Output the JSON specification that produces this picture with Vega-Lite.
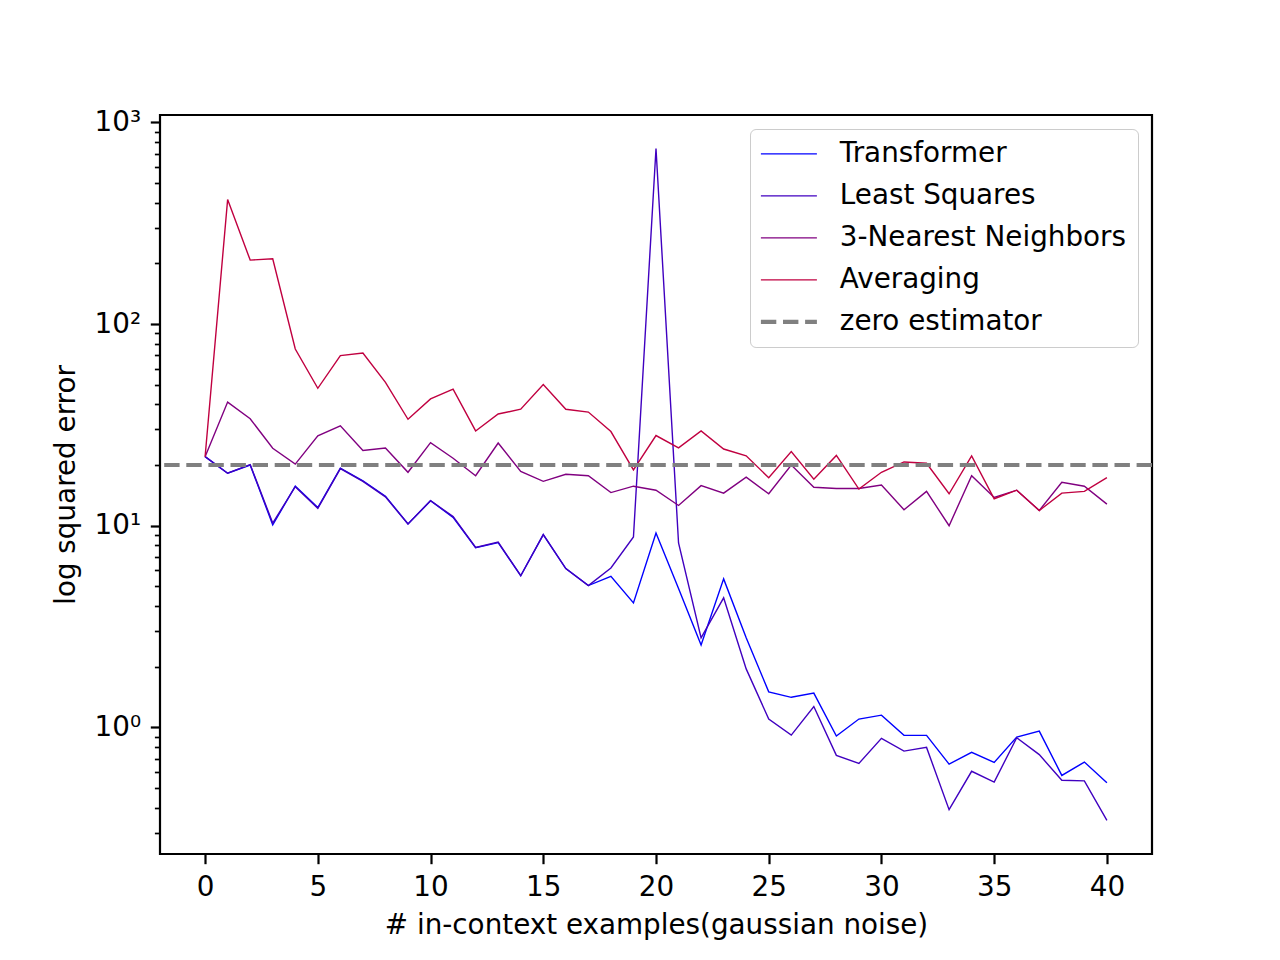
{
  "$schema": "https://vega.github.io/schema/vega-lite/v6.json",
  "autosize": {"type": "none"},
  "padding": {"left": 160, "top": 115, "right": 128, "bottom": 106},
  "width": 992,
  "height": 739,
  "background": "white",
  "data": {
    "values": [
      {"n": 0, "method": "Transformer", "err": 22.0},
      {"n": 1, "method": "Transformer", "err": 18.2},
      {"n": 2, "method": "Transformer", "err": 20.0},
      {"n": 3, "method": "Transformer", "err": 10.1},
      {"n": 4, "method": "Transformer", "err": 15.7},
      {"n": 5, "method": "Transformer", "err": 12.3},
      {"n": 6, "method": "Transformer", "err": 19.3},
      {"n": 7, "method": "Transformer", "err": 16.7},
      {"n": 8, "method": "Transformer", "err": 14.0},
      {"n": 9, "method": "Transformer", "err": 10.2},
      {"n": 10, "method": "Transformer", "err": 13.3},
      {"n": 11, "method": "Transformer", "err": 11.0},
      {"n": 12, "method": "Transformer", "err": 7.78},
      {"n": 13, "method": "Transformer", "err": 8.24},
      {"n": 14, "method": "Transformer", "err": 5.65},
      {"n": 15, "method": "Transformer", "err": 9.03},
      {"n": 16, "method": "Transformer", "err": 6.13},
      {"n": 17, "method": "Transformer", "err": 5.05},
      {"n": 18, "method": "Transformer", "err": 5.61},
      {"n": 19, "method": "Transformer", "err": 4.14},
      {"n": 20, "method": "Transformer", "err": 9.2},
      {"n": 21, "method": "Transformer", "err": 4.88},
      {"n": 22, "method": "Transformer", "err": 2.56},
      {"n": 23, "method": "Transformer", "err": 5.45},
      {"n": 24, "method": "Transformer", "err": 2.78},
      {"n": 25, "method": "Transformer", "err": 1.5},
      {"n": 26, "method": "Transformer", "err": 1.41},
      {"n": 27, "method": "Transformer", "err": 1.48},
      {"n": 28, "method": "Transformer", "err": 0.906},
      {"n": 29, "method": "Transformer", "err": 1.1},
      {"n": 30, "method": "Transformer", "err": 1.15},
      {"n": 31, "method": "Transformer", "err": 0.913},
      {"n": 32, "method": "Transformer", "err": 0.913},
      {"n": 33, "method": "Transformer", "err": 0.658},
      {"n": 34, "method": "Transformer", "err": 0.752},
      {"n": 35, "method": "Transformer", "err": 0.671},
      {"n": 36, "method": "Transformer", "err": 0.895},
      {"n": 37, "method": "Transformer", "err": 0.959},
      {"n": 38, "method": "Transformer", "err": 0.578},
      {"n": 39, "method": "Transformer", "err": 0.673},
      {"n": 40, "method": "Transformer", "err": 0.532},
      {"n": 0, "method": "Least Squares", "err": 22.0},
      {"n": 1, "method": "Least Squares", "err": 18.2},
      {"n": 2, "method": "Least Squares", "err": 20.1},
      {"n": 3, "method": "Least Squares", "err": 10.3},
      {"n": 4, "method": "Least Squares", "err": 15.6},
      {"n": 5, "method": "Least Squares", "err": 12.2},
      {"n": 6, "method": "Least Squares", "err": 19.2},
      {"n": 7, "method": "Least Squares", "err": 16.6},
      {"n": 8, "method": "Least Squares", "err": 13.9},
      {"n": 9, "method": "Least Squares", "err": 10.2},
      {"n": 10, "method": "Least Squares", "err": 13.3},
      {"n": 11, "method": "Least Squares", "err": 11.1},
      {"n": 12, "method": "Least Squares", "err": 7.8},
      {"n": 13, "method": "Least Squares", "err": 8.3},
      {"n": 14, "method": "Least Squares", "err": 5.65},
      {"n": 15, "method": "Least Squares", "err": 9.03},
      {"n": 16, "method": "Least Squares", "err": 6.13},
      {"n": 17, "method": "Least Squares", "err": 5.05},
      {"n": 18, "method": "Least Squares", "err": 6.17},
      {"n": 19, "method": "Least Squares", "err": 8.79},
      {"n": 20, "method": "Least Squares", "err": 741},
      {"n": 21, "method": "Least Squares", "err": 8.21},
      {"n": 22, "method": "Least Squares", "err": 2.78},
      {"n": 23, "method": "Least Squares", "err": 4.39},
      {"n": 24, "method": "Least Squares", "err": 1.95},
      {"n": 25, "method": "Least Squares", "err": 1.1},
      {"n": 26, "method": "Least Squares", "err": 0.916},
      {"n": 27, "method": "Least Squares", "err": 1.27},
      {"n": 28, "method": "Least Squares", "err": 0.727},
      {"n": 29, "method": "Least Squares", "err": 0.663},
      {"n": 30, "method": "Least Squares", "err": 0.882},
      {"n": 31, "method": "Least Squares", "err": 0.763},
      {"n": 32, "method": "Least Squares", "err": 0.796},
      {"n": 33, "method": "Least Squares", "err": 0.391},
      {"n": 34, "method": "Least Squares", "err": 0.606},
      {"n": 35, "method": "Least Squares", "err": 0.536},
      {"n": 36, "method": "Least Squares", "err": 0.889},
      {"n": 37, "method": "Least Squares", "err": 0.733},
      {"n": 38, "method": "Least Squares", "err": 0.547},
      {"n": 39, "method": "Least Squares", "err": 0.543},
      {"n": 40, "method": "Least Squares", "err": 0.346},
      {"n": 0, "method": "3-Nearest Neighbors", "err": 21.96},
      {"n": 1, "method": "3-Nearest Neighbors", "err": 41.0},
      {"n": 2, "method": "3-Nearest Neighbors", "err": 33.9},
      {"n": 3, "method": "3-Nearest Neighbors", "err": 24.2},
      {"n": 4, "method": "3-Nearest Neighbors", "err": 20.2},
      {"n": 5, "method": "3-Nearest Neighbors", "err": 27.9},
      {"n": 6, "method": "3-Nearest Neighbors", "err": 31.3},
      {"n": 7, "method": "3-Nearest Neighbors", "err": 23.6},
      {"n": 8, "method": "3-Nearest Neighbors", "err": 24.3},
      {"n": 9, "method": "3-Nearest Neighbors", "err": 18.4},
      {"n": 10, "method": "3-Nearest Neighbors", "err": 25.8},
      {"n": 11, "method": "3-Nearest Neighbors", "err": 21.6},
      {"n": 12, "method": "3-Nearest Neighbors", "err": 17.7},
      {"n": 13, "method": "3-Nearest Neighbors", "err": 25.7},
      {"n": 14, "method": "3-Nearest Neighbors", "err": 18.6},
      {"n": 15, "method": "3-Nearest Neighbors", "err": 16.6},
      {"n": 16, "method": "3-Nearest Neighbors", "err": 18.0},
      {"n": 17, "method": "3-Nearest Neighbors", "err": 17.7},
      {"n": 18, "method": "3-Nearest Neighbors", "err": 14.6},
      {"n": 19, "method": "3-Nearest Neighbors", "err": 15.7},
      {"n": 20, "method": "3-Nearest Neighbors", "err": 15.0},
      {"n": 21, "method": "3-Nearest Neighbors", "err": 12.6},
      {"n": 22, "method": "3-Nearest Neighbors", "err": 15.8},
      {"n": 23, "method": "3-Nearest Neighbors", "err": 14.5},
      {"n": 24, "method": "3-Nearest Neighbors", "err": 17.4},
      {"n": 25, "method": "3-Nearest Neighbors", "err": 14.4},
      {"n": 26, "method": "3-Nearest Neighbors", "err": 20.0},
      {"n": 27, "method": "3-Nearest Neighbors", "err": 15.5},
      {"n": 28, "method": "3-Nearest Neighbors", "err": 15.3},
      {"n": 29, "method": "3-Nearest Neighbors", "err": 15.3},
      {"n": 30, "method": "3-Nearest Neighbors", "err": 15.9},
      {"n": 31, "method": "3-Nearest Neighbors", "err": 12.0},
      {"n": 32, "method": "3-Nearest Neighbors", "err": 14.8},
      {"n": 33, "method": "3-Nearest Neighbors", "err": 10.0},
      {"n": 34, "method": "3-Nearest Neighbors", "err": 17.7},
      {"n": 35, "method": "3-Nearest Neighbors", "err": 13.8},
      {"n": 36, "method": "3-Nearest Neighbors", "err": 15.0},
      {"n": 37, "method": "3-Nearest Neighbors", "err": 11.9},
      {"n": 38, "method": "3-Nearest Neighbors", "err": 16.4},
      {"n": 39, "method": "3-Nearest Neighbors", "err": 15.7},
      {"n": 40, "method": "3-Nearest Neighbors", "err": 12.8},
      {"n": 0, "method": "Averaging", "err": 21.96},
      {"n": 1, "method": "Averaging", "err": 414.3},
      {"n": 2, "method": "Averaging", "err": 207.4},
      {"n": 3, "method": "Averaging", "err": 210.5},
      {"n": 4, "method": "Averaging", "err": 75.2},
      {"n": 5, "method": "Averaging", "err": 48.0},
      {"n": 6, "method": "Averaging", "err": 69.7},
      {"n": 7, "method": "Averaging", "err": 71.8},
      {"n": 8, "method": "Averaging", "err": 51.4},
      {"n": 9, "method": "Averaging", "err": 33.7},
      {"n": 10, "method": "Averaging", "err": 42.5},
      {"n": 11, "method": "Averaging", "err": 47.5},
      {"n": 12, "method": "Averaging", "err": 29.5},
      {"n": 13, "method": "Averaging", "err": 35.8},
      {"n": 14, "method": "Averaging", "err": 37.8},
      {"n": 15, "method": "Averaging", "err": 50.1},
      {"n": 16, "method": "Averaging", "err": 37.8},
      {"n": 17, "method": "Averaging", "err": 36.6},
      {"n": 18, "method": "Averaging", "err": 29.3},
      {"n": 19, "method": "Averaging", "err": 18.9},
      {"n": 20, "method": "Averaging", "err": 28.0},
      {"n": 21, "method": "Averaging", "err": 24.3},
      {"n": 22, "method": "Averaging", "err": 29.5},
      {"n": 23, "method": "Averaging", "err": 24.0},
      {"n": 24, "method": "Averaging", "err": 22.2},
      {"n": 25, "method": "Averaging", "err": 17.3},
      {"n": 26, "method": "Averaging", "err": 23.3},
      {"n": 27, "method": "Averaging", "err": 17.0},
      {"n": 28, "method": "Averaging", "err": 22.3},
      {"n": 29, "method": "Averaging", "err": 15.2},
      {"n": 30, "method": "Averaging", "err": 18.4},
      {"n": 31, "method": "Averaging", "err": 20.7},
      {"n": 32, "method": "Averaging", "err": 20.4},
      {"n": 33, "method": "Averaging", "err": 14.4},
      {"n": 34, "method": "Averaging", "err": 22.2},
      {"n": 35, "method": "Averaging", "err": 13.6},
      {"n": 36, "method": "Averaging", "err": 15.0},
      {"n": 37, "method": "Averaging", "err": 11.9},
      {"n": 38, "method": "Averaging", "err": 14.5},
      {"n": 39, "method": "Averaging", "err": 14.8},
      {"n": 40, "method": "Averaging", "err": 17.3}
    ]
  },
  "layer": [
    {
      "mark": {"type": "line", "strokeWidth": 1.4},
      "encoding": {
        "x": {
          "field": "n",
          "type": "quantitative",
          "scale": {"domain": [-2, 42], "nice": false, "zero": false},
          "axis": {"values": [0, 5, 10, 15, 20, 25, 30, 35, 40]},
          "title": "# in-context examples(gaussian noise)"
        },
        "y": {
          "field": "err",
          "type": "quantitative",
          "scale": {"type": "log", "domain": [0.2357, 1087], "nice": false},
          "axis": {
            "values": [0.3, 0.4, 0.5, 0.6, 0.7, 0.8, 0.9, 1, 2, 3, 4, 5, 6, 7, 8, 9, 10, 20, 30, 40, 50, 60, 70, 80, 90, 100, 200, 300, 400, 500, 600, 700, 800, 900, 1000],
            "labelExpr": "datum.value == 1 ? '10⁰' : datum.value == 10 ? '10¹' : datum.value == 100 ? '10²' : datum.value == 1000 ? '10³' : ''",
            "labelOverlap": false,
            "tickSize": {"condition": {"test": "datum.value == 1 || datum.value == 10 || datum.value == 100 || datum.value == 1000", "value": 9.7}, "value": 5.6},
            "tickWidth": {"condition": {"test": "datum.value == 1 || datum.value == 10 || datum.value == 100 || datum.value == 1000", "value": 2.2}, "value": 1.7}
          },
          "title": "log squared error"
        },
        "color": {
          "field": "method",
          "type": "nominal",
          "scale": {
            "domain": ["Transformer", "Least Squares", "3-Nearest Neighbors", "Averaging", "zero estimator"],
            "range": ["#0000ff", "#4000c0", "#800080", "#c00040", "#808080"]
          },
          "legend": {
            "title": null,
            "orient": "top-right",
            "offset": 14,
            "symbolType": "stroke",
            "symbolSize": 3136,
            "symbolStrokeWidth": 1.4,
            "symbolOffset": 14,
            "labelOffset": 37,
            "labelLimit": 500,
            "padding": 11,
            "rowPadding": 13,
            "labelFontSize": 27.8,
            "labelFont": "DejaVu Sans",
            "labelColor": "black",
            "strokeColor": "#cccccc",
            "fillColor": "rgba(255,255,255,0.8)",
            "cornerRadius": 5.6,
            "encode": {
              "symbols": {
                "update": {
                  "strokeWidth": {"signal": "datum.value == 'zero estimator' ? 4.2 : 1.4"},
                  "strokeDash": {"signal": "datum.value == 'zero estimator' ? [15.4, 6.7] : [1, 0]"}
                }
              }
            }
          }
        }
      }
    },
    {
      "data": {"values": [{"method": "zero estimator", "err": 20}]},
      "mark": {"type": "rule", "strokeWidth": 4.2, "strokeDash": [15.4, 6.7]},
      "encoding": {
        "y": {"field": "err", "type": "quantitative"},
        "color": {"field": "method", "type": "nominal"}
      }
    }
  ],
  "config": {
    "font": "DejaVu Sans",
    "view": {"stroke": "black", "strokeWidth": 2.2},
    "axis": {
      "grid": false,
      "domain": false,
      "ticks": true,
      "tickColor": "black",
      "tickSize": 9.7,
      "tickWidth": 2.2,
      "labelFont": "DejaVu Sans",
      "labelFontSize": 27.8,
      "labelColor": "black",
      "labelPadding": 9.7,
      "titleFont": "DejaVu Sans",
      "titleFontSize": 27.8,
      "titleFontWeight": "normal",
      "titleColor": "black"
    },
    "axisX": {"titlePadding": 10},
    "axisY": {"titlePadding": 14}
  }
}
